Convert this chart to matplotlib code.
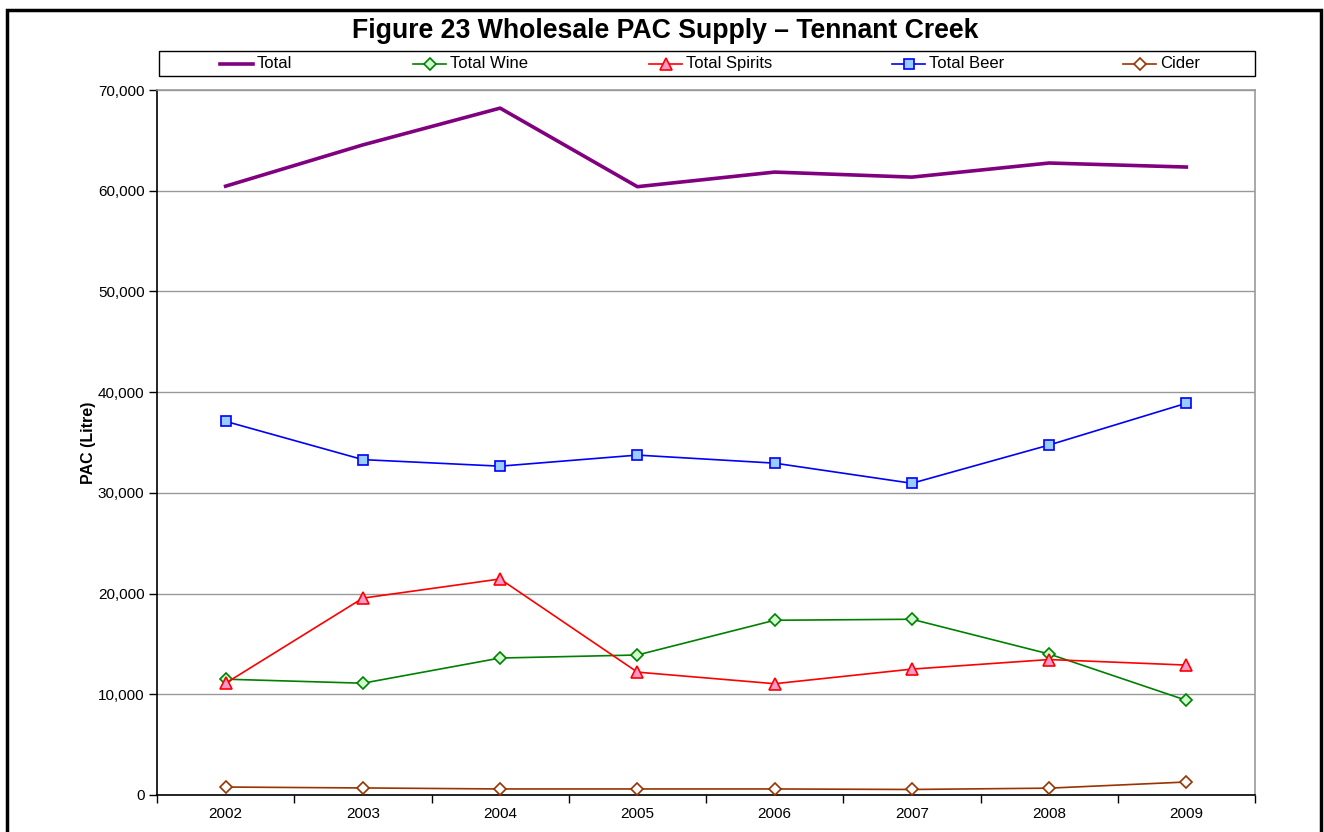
import numpy as np
import matplotlib.pyplot as plt
from matplotlib.lines import Line2D
from matplotlib.patches import Rectangle
from matplotlib.ticker import FuncFormatter, MultipleLocator

plt.rcParams['font.family'] = ['Liberation Sans', 'DejaVu Sans']

years = ['2002', '2003', '2004', '2005', '2006', '2007', '2008', '2009']
total = [60450, 64550, 68200, 60400, 61850, 61350, 62750, 62350]
wine = [11500, 11100, 13600, 13900, 17350, 17450, 14000, 9400]
spirits = [11100, 19550, 21450, 12200, 11050, 12500, 13450, 12900]
beer = [37100, 33300, 32650, 33750, 32950, 30950, 34750, 38900]
cider = [790, 700, 600, 600, 600, 550, 680, 1290]

W, H = 1324, 832
fig = plt.figure(figsize=(W / 100, H / 100), dpi=100)
ax = fig.add_axes([157 / W, 1 - 795 / H, (1255 - 157) / W, (795 - 90) / H])

x = np.arange(len(years))

styles = {
    'Total': dict(color='#800080', lw=2.6, marker=None),
    'Total Wine': dict(color='#008000', lw=1.2, marker='D', ms=6.5, mfc='#ccffcc', mec='#008000', mew=1.2),
    'Total Spirits': dict(color='#ff0000', lw=1.2, marker='^', ms=8.5, mfc='#ff99cc', mec='#ff0000', mew=1.2),
    'Total Beer': dict(color='#0000ff', lw=1.2, marker='s', ms=7.5, mfc='#99ccff', mec='#0000ff', mew=1.2),
    'Cider': dict(color='#993300', lw=1.2, marker='D', ms=6.5, mfc='white', mec='#993300', mew=1.2),
}
series = {'Total': total, 'Total Wine': wine, 'Total Spirits': spirits,
          'Total Beer': beer, 'Cider': cider}

for name, vals in series.items():
    ax.plot(x, vals, zorder=5 if name == 'Total' else 4, **styles[name])

ax.set_xlim(-0.5, len(years) - 0.5)
ax.set_ylim(0, 70000)
ax.yaxis.set_major_locator(MultipleLocator(10000))
ax.yaxis.set_major_formatter(FuncFormatter(lambda v, p: f'{int(v):,}'))
ax.grid(axis='y', color='#999999', lw=1.0)
ax.set_axisbelow(True)

# category labels between tick marks, Excel style
ax.set_xticks(np.arange(-0.5, len(years), 1.0))
ax.set_xticklabels([])
ax.set_xticks(x, minor=True)
ax.set_xticklabels(years, minor=True)
ax.tick_params(axis='x', which='major', length=6, width=1, direction='out', color='black')
ax.tick_params(axis='x', which='minor', length=0, pad=9, labelsize=11)
ax.tick_params(axis='y', length=6, width=1, direction='out', labelsize=11, pad=3)

for s in ['top', 'right']:
    ax.spines[s].set_color('#999999')
    ax.spines[s].set_linewidth(1.2)
for s in ['left', 'bottom']:
    ax.spines[s].set_color('black')
    ax.spines[s].set_linewidth(1.2)

ax.set_ylabel('PAC (Litre)', fontsize=11.5, fontweight='bold', labelpad=1)

fig.text(665 / W, 1 - 31 / H, 'Figure 23 Wholesale PAC Supply \u2013 Tennant Creek',
         ha='center', va='center', fontsize=19.2, fontweight='bold')

# legend drawn by hand to match the Excel spacing
fig.patches.append(Rectangle((159 / W, 1 - 76 / H), (1255 - 159) / W, 25 / H,
                             transform=fig.transFigure, fill=False,
                             edgecolor='black', lw=1.0))
leg_x = [220, 413, 649, 892, 1123]
leg_y = 1 - 63.5 / H
hl = 33
for px, name in zip(leg_x, series):
    st = dict(styles[name])
    mk = st.pop('marker')
    ms = st.pop('ms', None)
    mfc = st.pop('mfc', None)
    mec = st.pop('mec', None)
    mew = st.pop('mew', None)
    fig.add_artist(Line2D([px / W, (px + hl) / W], [leg_y, leg_y],
                          transform=fig.transFigure, **st))
    if mk is not None:
        fig.add_artist(Line2D([(px + hl / 2) / W], [leg_y], transform=fig.transFigure,
                              marker=mk, ms=ms, mfc=mfc, mec=mec, mew=mew, ls='none'))
    fig.text((px + hl + 4) / W, leg_y, name, ha='left', va='center', fontsize=12)

# outer chart border
fig.patches.append(Rectangle((7 / W, -0.05), (1321 - 7) / W, 1 - 10 / H + 0.05,
                             transform=fig.transFigure, fill=False,
                             edgecolor='black', lw=2.5))

fig.savefig('out.png', dpi=100)
